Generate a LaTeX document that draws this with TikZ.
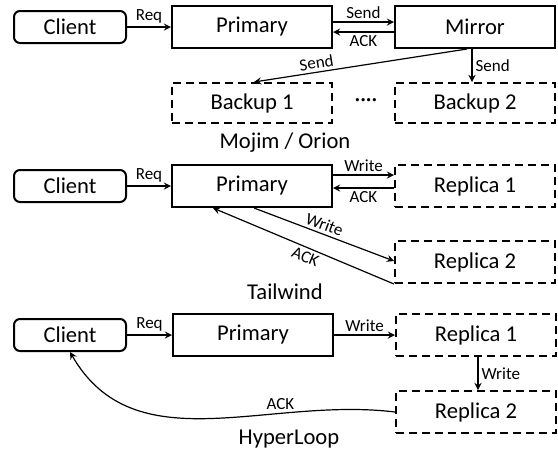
\documentclass[tikz,border=0pt]{standalone}
\usepackage{fontspec}
\setmainfont{Carlito}
\usepackage{tikz}
\usetikzlibrary{positioning}
\usetikzlibrary{arrows}
\tikzset{every picture/.style={line width=0.6pt,x=0.5pt,y=-0.5pt},
every node/.style={font=\fontsize{11.3}{13}\selectfont},
lbl/.style={font=\fontsize{8.5}{10}\selectfont,inner sep=1.5pt},
clientbox/.style={draw,line width=1pt,rounded corners=3pt,minimum width=56pt,minimum height=16pt,inner sep=0pt},
mainbox/.style={draw,line width=1pt,minimum width=80pt,minimum height=21pt,inner sep=0pt},
dashbox/.style={mainbox,dash pattern=on 4pt off 2.5pt}}

\begin{document}
\begin{tikzpicture}
\useasboundingbox (0,0) rectangle (558,452);

% Mojim / Orion
\node (c1) at (70,27) [clientbox] {Client};
\node (p1) [right of=c1, node distance=91pt, mainbox] {Primary};
\node (m1) [right of=p1, node distance=111.5pt, mainbox] {Mirror};
\node (b1) [below of=p1, node distance=38pt, dashbox, minimum height=20pt] {Backup 1};
\node (b2) [below of=m1, node distance=38pt, dashbox, minimum height=20pt] {Backup 2};
\node (d1) [right of=b1, node distance=57pt] {····};
\node (t1) at (285,148) [anchor=base] {Mojim / Orion};

\draw[-stealth] (c1) -- (p1) node [lbl, midway, above] {Req};
\draw[-stealth] ([yshift=2.5pt]p1.east) -- ([yshift=2.5pt]m1.west) node [lbl, midway, above] {Send};
\draw[-stealth] ([yshift=-2.5pt]m1.west) -- ([yshift=-2.5pt]p1.east) node [lbl, midway, below] {ACK};
\draw[-stealth] ([xshift=-1.5pt]m1.south) -- ([xshift=-1.5pt]b2.north) node [lbl, midway, right] {Send};
\draw[-stealth] ([xshift=-4pt]m1.south) -- ([xshift=1pt]b1.north) node [lbl, pos=0.7, above, sloped] {Send};

% Tailwind
\node (c2) at (70,186) [clientbox] {Client};
\node (p2) [right of=c2, node distance=91pt, mainbox] {Primary};
\node (r1) [right of=p2, node distance=111.5pt, dashbox] {Replica 1};
\node (r2) [below of=r1, node distance=38pt, dashbox] {Replica 2};
\node (t2) at (285,299) [anchor=base] {Tailwind};

\draw[-stealth] (c2) -- (p2) node [lbl, midway, above] {Req};
\draw[-stealth] ([yshift=5.5pt]p2.east) -- ([yshift=5.5pt]r1.west) node [lbl, midway, above] {Write};
\draw[-stealth] ([yshift=-1pt]r1.west) -- ([yshift=-1pt]p2.east) node [lbl, midway, below] {ACK};
\draw[-stealth] ([xshift=1pt]p2.south) -- ([yshift=0.5pt]r2.west) node [lbl, pos=0.48, above, sloped] {Write};
\draw[-stealth] (r2.south west) -- ([xshift=-19.5pt]p2.south) node [lbl, pos=0.47, below, sloped] {ACK};

% HyperLoop
\node (c3) at (70,335) [clientbox] {Client};
\node (p3) [right of=c3, node distance=91.5pt, mainbox] {Primary};
\node (s1) [right of=p3, node distance=111.5pt, dashbox] {Replica 1};
\node (s2) [below of=s1, node distance=38.5pt, dashbox] {Replica 2};
\node (t3) at (289,444) [anchor=base] {HyperLoop};

\draw[-stealth] (c3) -- (p3) node [lbl, midway, above] {Req};
\draw[-stealth] (p3) -- (s1) node [lbl, midway, above] {Write};
\draw[-stealth] ([xshift=1pt]s1.south) -- ([xshift=1pt]s2.north) node [lbl, midway, right] {Write};
\draw[-stealth] (s2.west) to[out=173, in=-60] node [lbl, pos=0.3, above] {ACK} (c3.south);
\end{tikzpicture}
\end{document}
